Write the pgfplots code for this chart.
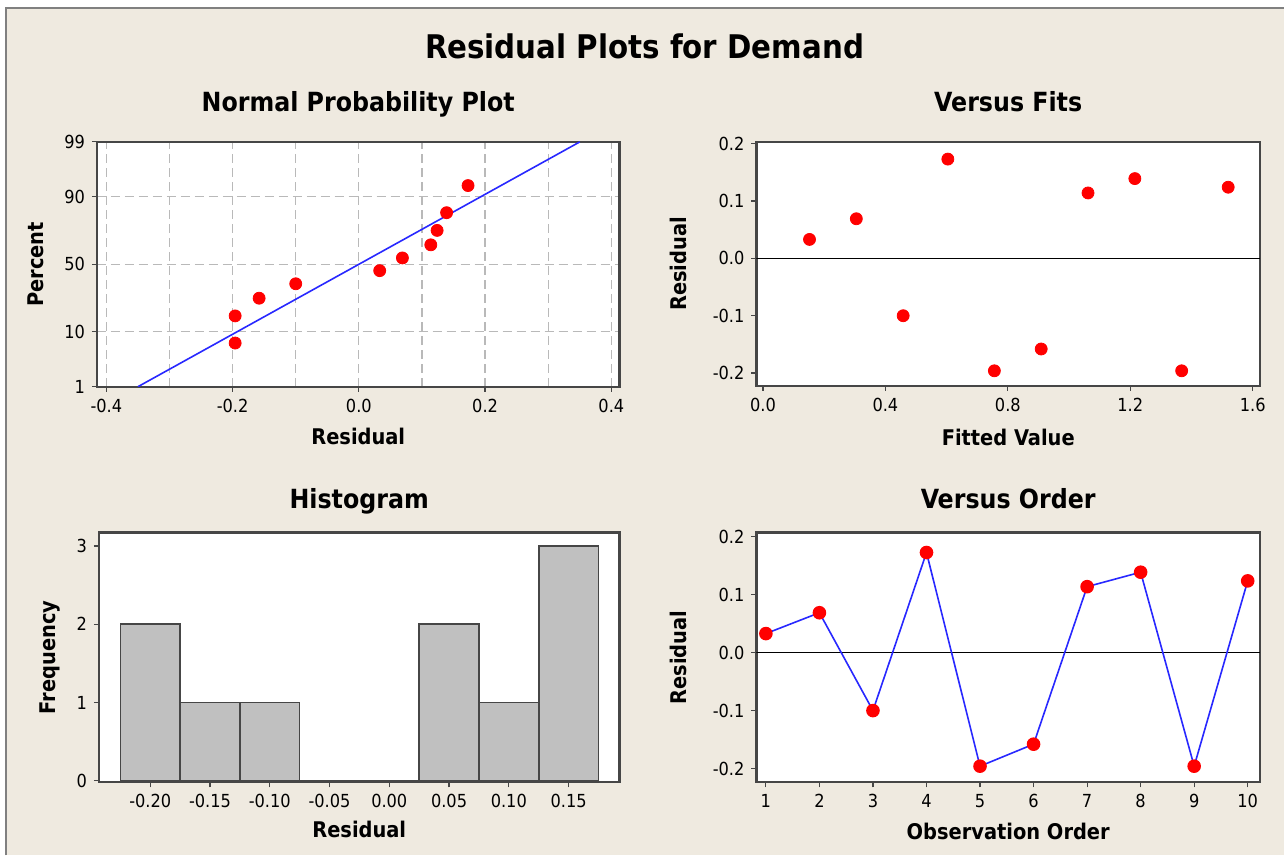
\documentclass[border=0pt]{standalone}
\usepackage{fontspec}
\setmainfont{DejaVu Sans Condensed}
\usepackage{pgfplots}
\pgfplotsset{compat=1.18}

\definecolor{bg}{RGB}{239,234,224}
\definecolor{framec}{RGB}{70,70,70}
\definecolor{gridc}{RGB}{185,185,185}
\definecolor{barc}{RGB}{192,192,192}
\definecolor{dotred}{RGB}{255,0,0}
\definecolor{lineblue}{RGB}{40,40,255}

\pgfplotsset{
  mstyle/.style={
    scale only axis,
    anchor=north west,
    axis line style={framec, line width=1.1pt},
    axis background/.style={fill=white},
    tick style={framec, line width=0.6pt},
    major tick length=2.5pt,
    minor tick length=0pt,
    tick align=outside,
    xtick pos=bottom, ytick pos=left,
    tick label style={font=\fontsize{9}{10}\selectfont},
    label style={font=\bfseries\fontsize{10.8}{12}\selectfont},
    title style={font=\bfseries\fontsize{13.2}{15}\selectfont, yshift=-6pt, anchor=base},
    /pgf/number format/assume math mode=true,
  },
  reddots/.style={only marks, mark=*, mark size=3pt, mark options={draw=dotred, fill=dotred}},
}

\begin{document}
\begin{tikzpicture}
\fill[white] (0,0) rectangle (642.5pt,-428pt);
\fill[bg] (3pt,-4pt) rectangle (642.5pt,-428pt);
\draw[gray, line width=1pt] (3pt,-428pt) -- (3pt,-4pt) -- (642.5pt,-4pt);
\useasboundingbox (0,0) rectangle (642.5pt,-428pt);

\node[font=\bfseries\fontsize{16.3}{19}\selectfont] at (322.5pt,-23pt) {Residual Plots for Demand};

% Normal probability plot
\begin{axis}[mstyle, at={(48.5pt,-71pt)}, width=261.5pt, height=122.5pt,
  xmin=-0.415, xmax=0.413, ymin=-2.3263, ymax=2.3263,
  xtick={-0.4,-0.2,0,0.2,0.4}, xticklabels={-0.4,-0.2,0.0,0.2,0.4},
  minor xtick={-0.3,-0.1,0.1,0.3},
  ytick={-2.3263,-1.2816,0,1.2816,2.3263}, yticklabels={1,10,50,90,99},
  grid=both, grid style={gridc, dash pattern=on 4.5pt off 2.5pt, line width=0.6pt},
  minor grid style={gridc, dash pattern=on 4.5pt off 2.5pt, line width=0.6pt},
  title={Normal Probability Plot}, xlabel={Residual}, ylabel={Percent},
  title style={at={(axis description cs:0.5,1.1224)}},
  xlabel style={at={(axis description cs:0.5,-0.204)}, anchor=center},
  ylabel style={at={(axis description cs:-0.1166,0.5)}, anchor=center},
]
\addplot[lineblue, line width=0.8pt] coordinates {(-0.35,-2.3263) (0.35,2.3263)};
\addplot[reddots] coordinates {
(-0.196,-1.4963) (-0.196,-0.9808) (-0.158,-0.6444) (-0.100,-0.3700) (0.033,-0.1208)
(0.069,0.1208) (0.114,0.3700) (0.124,0.6444) (0.139,0.9808) (0.173,1.4963)};
\end{axis}

% Versus fits
\begin{axis}[mstyle, at={(378.5pt,-71pt)}, width=252pt, height=122pt,
  xmin=-0.0215, xmax=1.624, ymin=-0.222, ymax=0.203,
  xtick={0,0.4,0.8,1.2,1.6}, xticklabels={0.0,0.4,0.8,1.2,1.6},
  ytick={-0.2,-0.1,0,0.1,0.2}, yticklabels={-0.2,-0.1,0.0,0.1,0.2},
  title={Versus Fits}, xlabel={Fitted Value}, ylabel={Residual},
  title style={at={(axis description cs:0.5,1.123)}},
  xlabel style={at={(axis description cs:0.5,-0.213)}, anchor=center},
  ylabel style={at={(axis description cs:-0.1548,0.5)}, anchor=center},
]
\addplot[black, line width=0.6pt] coordinates {(-0.0215,0) (1.624,0)};
\addplot[reddots] coordinates {
(0.152,0.033) (0.305,0.069) (0.458,-0.100) (0.604,0.173) (0.756,-0.196)
(0.909,-0.158) (1.062,0.114) (1.215,0.139) (1.368,-0.196) (1.520,0.124)};
\end{axis}

% Histogram
\begin{axis}[mstyle, at={(49.5pt,-266.5pt)}, width=260.5pt, height=125pt,
  xmin=-0.2429, xmax=0.1926, ymin=-0.02, ymax=3.17,
  xtick={-0.20,-0.15,-0.10,-0.05,0,0.05,0.10,0.15},
  xticklabels={-0.20,-0.15,-0.10,-0.05,0.00,0.05,0.10,0.15},
  ytick={0,1,2,3},
  title={Histogram}, xlabel={Residual}, ylabel={Frequency},
  title style={at={(axis description cs:0.5,1.096)}},
  xlabel style={at={(axis description cs:0.5,-0.188)}, anchor=center},
  ylabel style={at={(axis description cs:-0.094,0.5)}, anchor=center},
]
\addplot[ybar, bar width=0.05, bar shift=0pt, fill=barc, draw=framec, line width=0.8pt] coordinates {
(-0.20,2) (-0.15,1) (-0.10,1) (-0.05,0) (0.00,0) (0.05,2) (0.10,1) (0.15,3)};
\end{axis}

% Versus order
\begin{axis}[mstyle, at={(378.5pt,-266.5pt)}, width=252pt, height=125pt,
  xmin=0.823, xmax=10.23, ymin=-0.224, ymax=0.2074,
  xtick={1,2,3,4,5,6,7,8,9,10},
  ytick={-0.2,-0.1,0,0.1,0.2}, yticklabels={-0.2,-0.1,0.0,0.1,0.2},
  title={Versus Order}, xlabel={Observation Order}, ylabel={Residual},
  title style={at={(axis description cs:0.5,1.096)}},
  xlabel style={at={(axis description cs:0.5,-0.196)}, anchor=center},
  ylabel style={at={(axis description cs:-0.1548,0.5)}, anchor=center},
]
\addplot[black, line width=0.6pt] coordinates {(0.823,0) (10.23,0)};
\addplot[lineblue, line width=0.8pt, mark=*, mark size=3pt, mark options={draw=dotred, fill=dotred}] coordinates {
(1,0.033) (2,0.069) (3,-0.100) (4,0.173) (5,-0.196)
(6,-0.158) (7,0.114) (8,0.139) (9,-0.196) (10,0.124)};
\end{axis}
\end{tikzpicture}
\end{document}
